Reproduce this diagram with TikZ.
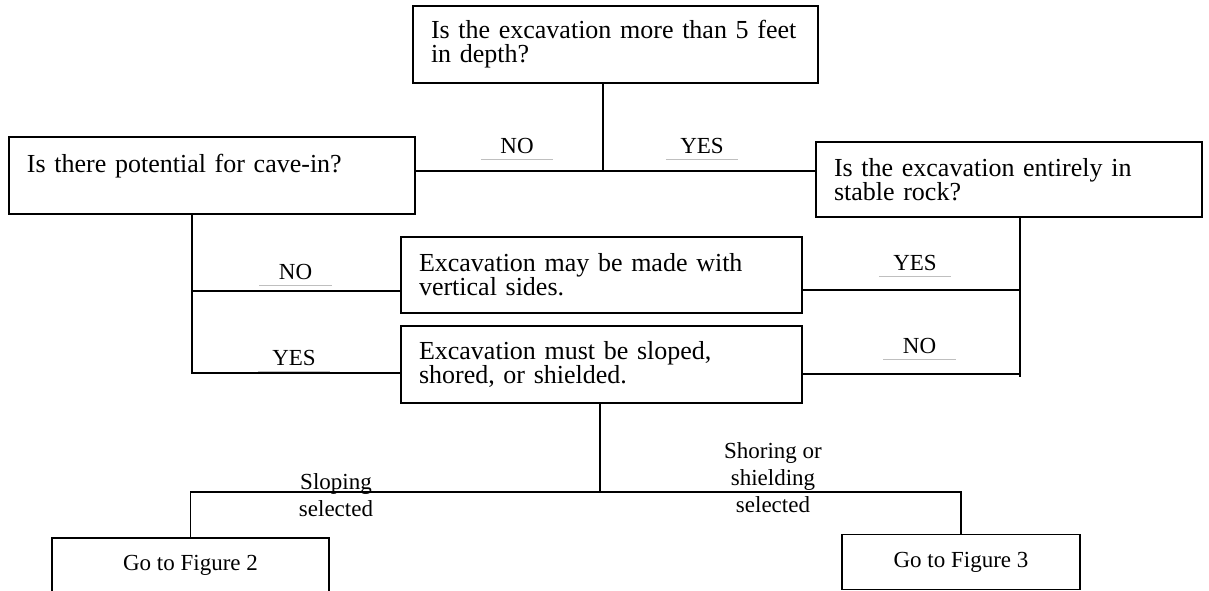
\documentclass[tikz,border=0pt]{standalone}
\usepackage{fontspec}
\setmainfont{Liberation Serif}
\begin{document}
\begin{tikzpicture}[x = 1pt, y = -1pt,
    box/.style = {draw, line width = 1.1pt, rectangle, align = left, inner xsep = 18pt, inner ysep = 0pt, font = \fontsize{26}{24}\selectfont},
    goto/.style = {draw, line width = 1.1pt, rectangle, align = center, font = \fontsize{23}{27}\selectfont},
    ans/.style = {font = \fontsize{23}{27}\selectfont, minimum width = 72pt, inner sep = 0pt, text depth = 6pt, anchor = base},
    note/.style = {font = \fontsize{23}{27}\selectfont, align = center, inner sep = 0pt},
    link/.style = {line width = 1.8pt},
    uline/.style = {line width = 1pt, black!25}]
  \useasboundingbox (0,0) rectangle (1209,590);
  \node [box, text width = 369pt, minimum height = 77pt] (depth) at (615.5,44.5) {Is the excavation more than 5 feet\\in depth?};
  \node [box, text width = 370pt, minimum height = 77pt] (cavein) at (212,175.5) {Is there potential for cave-in?\\~};
  \node [box, text width = 350pt, minimum height = 75pt] (rock) at (1009,179.5) {Is the excavation entirely in\\stable rock?};
  \node [box, text width = 365pt, minimum height = 76pt] (vert) at (601.5,275) {Excavation may be made with\\vertical sides.};
  \node [box, text width = 365pt, minimum height = 77pt] (slope) at (601.5,364.5) {Excavation must be sloped,\\shored, or shielded.};
  \node [goto, minimum width = 277pt, minimum height = 55pt] (fig2) at (190.5,565.5) {Go to Figure 2};
  \node [goto, minimum width = 238pt, minimum height = 55pt] (fig3) at (961,562) {Go to Figure 3};

  \coordinate (split) at (603,171);
  \coordinate (lno) at (192,291);
  \coordinate (lyes) at (192,373);
  \coordinate (ryes) at (1020,290);
  \coordinate (rno) at (1020,374);
  \coordinate (bfork) at (600,492);

  \draw [link] (split |- depth.south) -- (split);
  \draw [link] (cavein.east |- split) -- (rock.west |- split);
  \draw [link] (cavein.south -| lyes) -- (lyes) -- (slope.west |- lyes);
  \draw [link] (lno) -- (vert.west |- lno);
  \draw [link] (rock.south -| rno) -- ([yshift = -3pt]rno);
  \draw [link] (vert.east |- ryes) -- (ryes);
  \draw [link] (slope.east |- rno) -- (rno);
  \draw [link] (bfork |- slope.south) -- (bfork);
  \draw [link] (fig2.north) -- (fig2.north |- bfork) -- (fig3.north |- bfork) -- (fig3.north);

  \node [ans] (no1) at (517,153) {NO};
  \node [ans] (yes1) at (702,153) {YES};
  \node [ans] (no2) at (295.5,279) {NO};
  \node [ans] (yes2) at (294,365) {YES};
  \node [ans] (yes3) at (915,270) {YES};
  \node [ans] (no3) at (919.5,353) {NO};
  \foreach \a in {no1, yes1, no2, yes2, yes3, no3}
    \draw [uline] (\a.south west) -- (\a.south east);

  \node [note] (slopesel) at (336,495) {Sloping\\selected};
  \node [note] (shoresel) at (773,478) {Shoring or\\shielding\\selected};
\end{tikzpicture}
\end{document}
